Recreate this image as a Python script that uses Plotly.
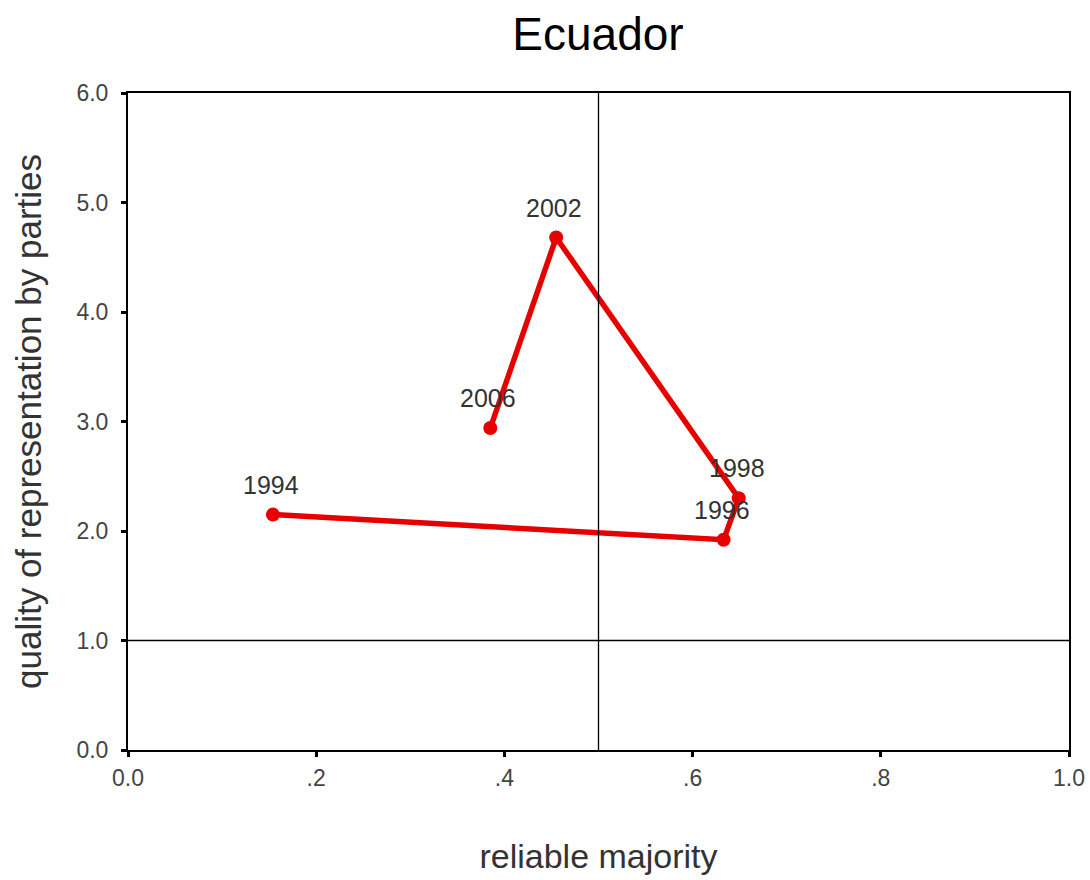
import plotly.graph_objects as go

years = ["1994", "1996", "1998", "2002", "2006"]
reliable_majority = [0.154, 0.633, 0.649, 0.455, 0.385]
quality_repr = [2.15, 1.92, 2.30, 4.68, 2.94]

x_ticks = [0.0, 0.2, 0.4, 0.6, 0.8, 1.0]
x_tick_labels = ["0.0", ".2", ".4", ".6", ".8", "1.0"]
y_ticks = [0, 1, 2, 3, 4, 5, 6]
y_tick_labels = ["0.0", "1.0", "2.0", "3.0", "4.0", "5.0", "6.0"]
ref_x = 0.5
ref_y = 1.0

FONT = "Liberation Sans, Arial"

fig = go.Figure()
fig.add_trace(go.Scatter(
    x=reliable_majority, y=quality_repr, mode="lines+markers",
    line=dict(color="#e60000", width=5.5),
    marker=dict(color="#e60000", size=14),
    showlegend=False, hoverinfo="skip",
))

for xv, yv, t in zip(reliable_majority, quality_repr, years):
    fig.add_annotation(x=xv, y=yv, text=t, showarrow=False, yshift=30, xshift=-2,
                       font=dict(family=FONT, size=25, color="#333333"))

fig.add_shape(type="line", x0=ref_x, x1=ref_x, y0=0, y1=6, xref="x", yref="y",
              line=dict(color="black", width=1.3))
fig.add_shape(type="line", x0=0, x1=1, y0=ref_y, y1=ref_y, xref="x", yref="y",
              line=dict(color="black", width=1.3))

axis_common = dict(showgrid=False, zeroline=False, showline=True, linecolor="black",
                   linewidth=2, mirror=True, ticks="outside", ticklen=5, tickwidth=3,
                   tickcolor="black", automargin=False,
                   tickfont=dict(family=FONT, size=23, color="#444444"))

fig.update_layout(
    width=1090, height=880,
    paper_bgcolor="white", plot_bgcolor="white",
    margin=dict(l=128, r=21, t=93, b=130),
    title=dict(text="Ecuador", x=598 / 1090, xanchor="center",
               y=1 - 34 / 880, yanchor="middle",
               font=dict(family=FONT, size=46, color="black")),
    xaxis=dict(range=[0, 1], tickvals=x_ticks, ticktext=x_tick_labels,
               ticklabelstandoff=1,
               title=dict(text="reliable majority", standoff=55,
                          font=dict(family=FONT, size=34, color="#333333")),
               **axis_common),
    yaxis=dict(range=[0, 6], tickvals=y_ticks, ticktext=y_tick_labels,
               ticklabelstandoff=8,
               title=dict(text="quality of representation by parties", standoff=24,
                          font=dict(family=FONT, size=35, color="#333333")),
               **axis_common),
)

fig.write_html("out.html")
